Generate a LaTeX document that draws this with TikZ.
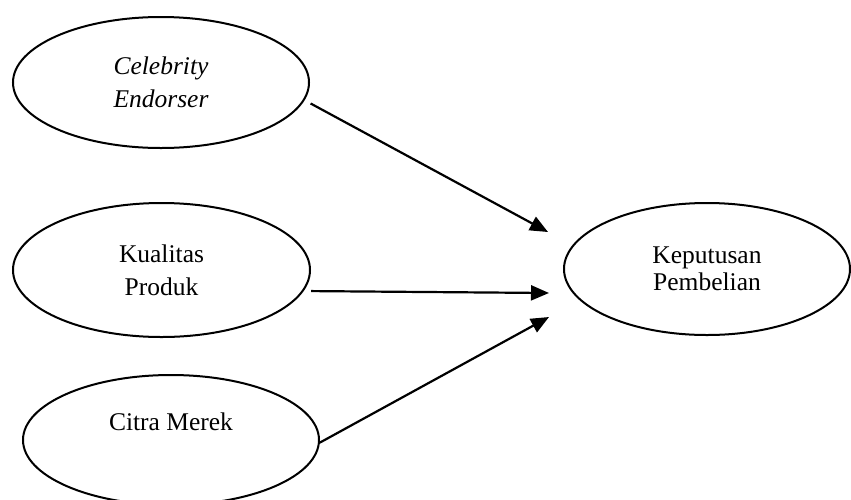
\documentclass[tikz,border=0pt]{standalone}
\usepackage{fontspec}
\setmainfont{Liberation Serif}
\usetikzlibrary{shapes.geometric,arrows.meta}
\tikzset{
  var/.style={ellipse, draw, line width=2pt, inner sep=0pt, align=center,
    font=\fontsize{25.5}{33}\selectfont},
  conn/.style={line width=2.2pt, -{Triangle[length=18pt,width=15pt]}}
}
\begin{document}
\begin{tikzpicture}[x=1pt,y=-1pt]
\useasboundingbox (0,0) rectangle (851,499);
\clip (0,0) rectangle (851,499);
\node[var, minimum width=296pt, minimum height=131pt] (ce) at (161,82.5)
  {\itshape Celebrity\\\itshape Endorser};
\node[var, minimum width=297pt, minimum height=134pt] (kp) at (161.5,270)
  {Kualitas\\Produk};
\node[var, minimum width=296pt, minimum height=130pt,
  label={[anchor=center,yshift=18pt,font=\fontsize{25.5}{33}\selectfont]center:Citra Merek}] (cm) at (171,440) {};
\node[var, minimum width=286pt, minimum height=132pt,
  font=\fontsize{25.5}{27}\selectfont] (kb) at (707,269)
  {Keputusan\\Pembelian};
\coordinate (t1) at (548,232);
\coordinate (t2) at (549,293);
\coordinate (t3) at (549,317);
\draw[conn] ([shift={(7.5,1)}]ce.-8.3) -- (t1);
\draw[conn] ([shift={(6.7,1)}]kp.-8) -- (t2);
\draw[conn] (cm.-1) -- (t3);
\end{tikzpicture}
\end{document}
